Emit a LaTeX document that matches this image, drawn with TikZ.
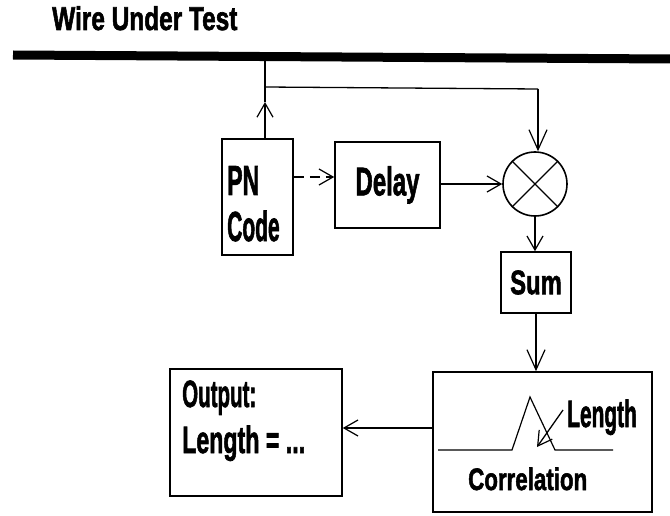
\documentclass[tikz,border=0pt]{standalone}
\usepackage{fontspec}
\setmainfont{Liberation Sans}[BoldFeatures={FakeBold=2}]
\usepackage{graphicx}
\usetikzlibrary{arrows.meta,calc}
\newcommand\tx[3]{{\fontsize{#1}{#1}\selectfont\bfseries\scalebox{#2}[1]{#3}}}
\begin{document}
\begin{tikzpicture}[x=1pt,y=-1pt,
  box/.style={draw, line width=1.6pt, inner sep=0pt},
  conn/.style={line width=1.3pt},
  arr/.style={conn, -{Straight Barb[length=14pt,width=16pt,line width=1.2pt]}},
  bigarr/.style={conn, -{Straight Barb[length=20pt,width=18pt,line width=1.2pt]}},
  lbl/.style={anchor=base west, inner sep=0pt}]
\useasboundingbox (0,0) rectangle (670,516);
% title and wire
\node[lbl] (title) at (52,30) {\tx{33}{0.74}{Wire Under Test}};
\coordinate (wl) at (13,55);
\coordinate (wr) at (670,59);
\draw[line width=9pt] (wl) -- (wr);
% boxes
\node[box, minimum width=71pt, minimum height=116pt] (pn) at (257.5,197) {};
\node[box, minimum width=105pt, minimum height=86pt] (delay) at (387.5,185) {\tx{40}{0.60}{Delay}};
\node[draw, line width=1.6pt, circle, minimum size=64pt, inner sep=0pt] (mult) at (535,184) {};
\draw[line width=1.4pt] (mult.45) -- (mult.225) (mult.135) -- (mult.315);
\node[box, minimum width=70pt, minimum height=61pt] (sum) at (536,282.5) {\tx{34}{0.70}{Sum}};
\node[box, minimum width=219pt, minimum height=140pt] (corr) at (542.5,442) {};
\node[box, minimum width=172pt, minimum height=127pt] (out) at (256,432.5) {};
% texts
\node[lbl] (pnt) at (227,195) {\tx{42}{0.55}{PN}};
\node[lbl] (codet) at (227,241) {\tx{42}{0.50}{Code}};
\node[lbl] (len) at (567,427) {\tx{38}{0.55}{Length}};
\node[lbl] (corrt) at (468,490) {\tx{31}{0.72}{Correlation}};
\node[lbl] (outt) at (182,407) {\tx{38}{0.54}{Output:}};
\node[lbl] (lent) at (182,453) {\tx{38}{0.61}{Length = ...}};
% connectors
\coordinate (j) at (265,57);
\coordinate (b) at (265,87);
\coordinate (c) at (538,89);
\coordinate (up) at (265,102);
\draw[arr] (pn.north -| j) -- (up);
\draw[conn] (up) -- (j);
\draw[conn] (b) -- (c);
\draw[bigarr] (c) -- (c |- mult.north);
\coordinate (d1) at (300,177);
\draw[arr, dash pattern=on 10pt off 6pt] (d1 -| pn.east) -- (d1 -| delay.west);
\draw[arr] (delay.east |- mult.west) -- (mult.west);
\draw[arr] (mult.south) -- (mult.south |- sum.north);
\draw[bigarr] (sum.south) -- (sum.south |- corr.north);
\coordinate (k) at (400,428);
\draw[arr] (k -| corr.west) -- (k -| out.east);
% correlation graph
\draw[line width=1.2pt] (438,450) -- (512,450) -- (530,397) -- (555,450) -- (613,450);
\coordinate (ls) at (563,410);
\coordinate (pk) at (537,447);
\draw[arr] (ls) -- (pk);
\end{tikzpicture}
\end{document}
